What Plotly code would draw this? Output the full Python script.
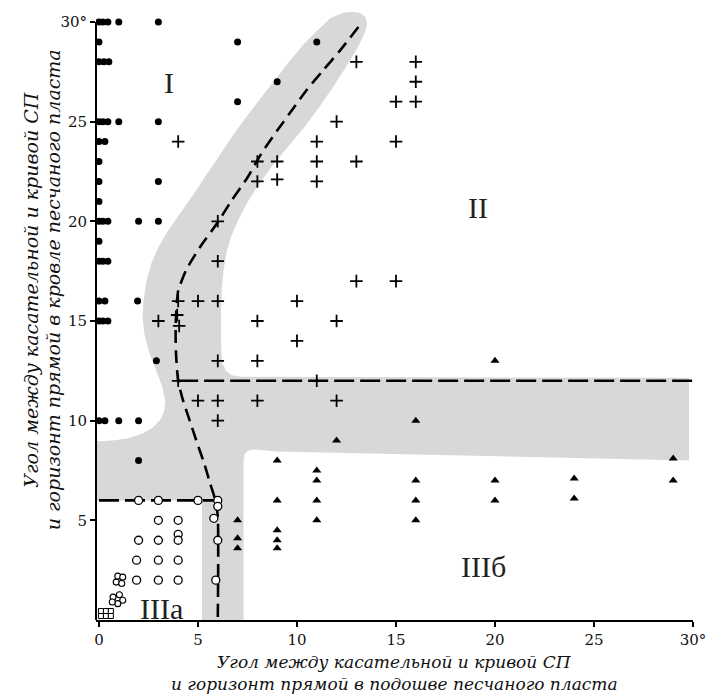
import plotly.graph_objects as go

# ---------------- data ----------------
# filled dots (zone I)
dot_x = [0, 0.2, 0.45, 1.0, 3.0,
         0, 7, 11,
         0, 0.25, 0.5,
         9,
         7,
         0, 0.2, 0.45, 1.0, 3.0,
         0, 0.3,
         0,
         0, 3,
         0,
         0, 0.2, 0.45, 2.0, 3.0,
         0,
         0, 0.2, 0.45,
         0, 0.3, 1.95,
         0, 0.2, 0.45,
         2.9,
         0, 0.3, 1.0, 2.0,
         2.0]
dot_y = [30, 30, 30, 30, 30,
         29, 29, 29,
         28, 28, 28,
         27,
         26,
         25, 25, 25, 25, 25,
         24, 24,
         23,
         22, 22,
         21,
         20, 20, 20, 20, 20,
         19,
         18, 18, 18,
         16, 16, 16,
         15, 15, 15,
         13,
         10, 10, 10, 10,
         8]

# crosses (zone II)
cross_x = [13, 16, 16, 15, 16, 12, 4, 11, 15, 8, 9, 11, 13, 8, 9, 11,
           6, 6, 13, 15, 4, 5, 6, 10, 3, 3.95, 8, 12, 4.05, 10,
           6, 8, 4, 11, 5, 6, 8, 12, 6]
cross_y = [28, 28, 27, 26, 26, 25, 24, 24, 24, 23, 23, 23, 23, 22, 22.1, 22,
           20, 18, 17, 17, 16, 16, 16, 16, 15, 15.3, 15, 15, 14.75, 14,
           13, 13, 12, 12, 11, 11, 11, 11, 10]

# open circles (zone IIIa)
ring_x = [2, 3, 5, 6, 6, 3, 4, 5.8, 2, 3, 4, 4, 6, 1.9, 3, 4, 1.9, 3, 4, 5.9]
ring_y = [6, 6, 6, 6, 5.7, 5, 5, 5.1, 4, 4, 4.3, 4, 4, 3, 3, 3, 2, 2, 2, 2]

# small open circles near the origin
small_ring_x = [0.95, 1.2, 0.87, 1.15, 0.71, 1.03, 1.2, 0.95, 0.67]
small_ring_y = [2.2, 2.15, 1.9, 1.83, 1.15, 1.27, 0.99, 0.82, 0.9]

# small squares at the origin
square_x = [0.1, 0.35, 0.6, 0.1, 0.35, 0.6]
square_y = [0.45, 0.45, 0.45, 0.2, 0.2, 0.2]

# triangles (zone IIIб)
tri_x = [7, 7, 7, 9, 9, 9, 9, 9, 11, 11, 11, 11, 12, 16, 16, 16, 16,
         20, 20, 20, 24, 24, 29, 29]
tri_y = [5, 4.1, 3.6, 8, 6, 4.5, 4, 3.6, 7.5, 7, 6, 5, 9, 10, 7, 6, 5,
         13, 7, 6, 7.1, 6.1, 8.1, 7]

# boundary of the grey transition zone
zone_x = [12.3, 11.7, 11.0, 10.3, 9.6, 9.0, 8.3, 7.6, 6.9, 6.2, 5.5, 4.8, 4.1,
          3.5, 3.0, 2.65, 2.4, 2.25, 2.2, 2.3, 2.55, 2.9, 3.2, 3.35, 3.3, 3.1,
          2.7, 2.2, 1.5, 0.8, 0.0, -0.3,
          -0.3, 5.2, 5.2, 7.3, 7.3, 7.35, 7.5, 7.8, 9.0, 12, 16, 20, 25, 29.8,
          29.8, 7.2, 6.7, 6.4, 6.22, 6.17, 6.16, 6.2, 6.3, 6.45, 6.7, 7.05,
          7.5, 8.1, 8.8, 9.6, 10.4, 11.1, 11.8, 12.45, 13.0, 13.4, 13.55,
          13.45, 13.2, 12.8, 12.3]
zone_y = [30.45, 30.2, 29.55, 28.85, 28.0, 27.25, 26.35, 25.45, 24.5, 23.5,
          22.45, 21.4, 20.4, 19.55, 18.7, 17.9, 17.0, 16.0, 15.2, 14.3, 13.4,
          12.5, 11.7, 11.0, 10.5, 10.05, 9.65, 9.35, 9.12, 9.02, 8.95, 8.95,
          6.0, 6.0, -0.3, -0.3, 8.0, 8.3, 8.48, 8.55, 8.45, 8.38, 8.3, 8.2,
          8.1, 8.0,
          12.15, 12.2, 12.28, 12.5, 12.9, 13.7, 15.4, 16.6, 17.6, 18.5, 19.3,
          20.1, 20.95, 21.9, 22.85, 23.8, 24.75, 25.7, 26.7, 27.7, 28.6, 29.4,
          29.9, 30.25, 30.45, 30.52, 30.45]

# dashed boundary curve
curve_x = [13.1, 12.2, 11.3, 10.5, 9.8, 9.0, 8.2, 7.5, 6.7, 6.0, 5.1, 4.4,
           4.0, 3.9, 3.87, 3.9, 4.0, 4.25, 4.55, 4.95, 5.3, 5.6, 5.88, 6.0, 6.0]
curve_y = [29.75, 28.6, 27.55, 26.6, 25.65, 24.55, 23.4, 22.2, 21.05, 19.95,
           18.7, 17.55, 16.5, 15.4, 14.3, 13.2, 12.0, 11.0, 10.1, 8.9, 7.9,
           6.9, 6.0, 5.2, 0.0]

# straight dashed boundaries
hline12_x = [4.0, 30.0]
hline12_y = [12.0, 12.0]
hline6_x = [0.0, 5.9]
hline6_y = [6.0, 6.0]

# zone labels
label_text = ["I", "II", "IIIа", "IIIб"]
label_x = [3.55, 19.15, 3.15, 19.4]
label_y = [26.95, 20.7, 0.6, 2.7]

x_tickvals = [0, 5, 10, 15, 20, 25, 30]
x_ticktext = ["0", "5", "10", "15", "20", "25", "30°"]
y_tickvals = [5, 10, 15, 20, 25, 30]
y_ticktext = ["5", "10", "15", "20", "25", "30°"]

x_title_lines = ["Угол между касательной и кривой СП",
                 "и горизонт прямой в подошве песчаного пласта"]
y_title_lines = ["Угол между касательной и кривой СП",
                 "и горизонт прямой в кровле песчаного пласта"]

# ---------------- figure ----------------
SERIF = "Liberation Serif, DejaVu Serif, serif"
TICKF = "DejaVu Serif, serif"
fig = go.Figure()

fig.add_trace(go.Scatter(x=zone_x, y=zone_y, mode="lines", fill="toself",
                         fillcolor="#d8d8d8", line=dict(width=0, color="#d8d8d8"),
                         hoverinfo="skip", showlegend=False))

fig.add_trace(go.Scatter(x=curve_x, y=curve_y, mode="lines",
                         line=dict(color="black", width=2.6, dash="13px,7px",
                                   shape="spline", smoothing=0.6),
                         showlegend=False))
fig.add_trace(go.Scatter(x=hline12_x, y=hline12_y, mode="lines",
                         line=dict(color="black", width=2.6, dash="20px,6px"),
                         showlegend=False))
fig.add_trace(go.Scatter(x=hline6_x, y=hline6_y, mode="lines",
                         line=dict(color="black", width=2.6, dash="20px,6px"),
                         showlegend=False))

fig.add_trace(go.Scatter(x=dot_x, y=dot_y, mode="markers",
                         marker=dict(symbol="circle", size=7, color="black"),
                         showlegend=False))
fig.add_trace(go.Scatter(x=cross_x, y=cross_y, mode="markers",
                         marker=dict(symbol="cross-thin", size=9, color="black",
                                     line=dict(width=1.8, color="black")),
                         showlegend=False))
fig.add_trace(go.Scatter(x=ring_x, y=ring_y, mode="markers",
                         marker=dict(symbol="circle", size=8, color="white",
                                     line=dict(width=1.3, color="black")),
                         showlegend=False))
fig.add_trace(go.Scatter(x=small_ring_x, y=small_ring_y, mode="markers",
                         marker=dict(symbol="circle", size=6, color="white",
                                     line=dict(width=1.1, color="black")),
                         showlegend=False))
fig.add_trace(go.Scatter(x=square_x, y=square_y, mode="markers",
                         marker=dict(symbol="square", size=5, color="white",
                                     line=dict(width=1, color="black")),
                         showlegend=False))
fig.add_trace(go.Scatter(x=tri_x, y=tri_y, mode="markers",
                         marker=dict(symbol="triangle-up", size=8, color="black"),
                         showlegend=False))

for t, lx, ly in zip(label_text, label_x, label_y):
    fig.add_annotation(x=lx, y=ly, text=t, showarrow=False,
                       xanchor="center", yanchor="middle",
                       font=dict(family=SERIF, size=30, color="#222"))

# axis titles (two lines each, italic serif)
TF = dict(family="DejaVu Serif", size=17, color="#111")
fig.add_annotation(xref="paper", yref="paper", x=0.5, y=-0.069,
                   xanchor="center", yanchor="middle",
                   text="<i>" + x_title_lines[0] + "</i>", showarrow=False, font=TF)
fig.add_annotation(xref="paper", yref="paper", x=0.5, y=-0.105,
                   xanchor="center", yanchor="middle",
                   text="<i>" + x_title_lines[1] + "</i>", showarrow=False, font=TF)
TFY = dict(family="DejaVu Serif", size=19, color="#111")
fig.add_annotation(xref="paper", yref="paper", x=-0.109, y=0.543, textangle=-90,
                   xanchor="center", yanchor="middle",
                   text="<i>" + y_title_lines[0] + "</i>", showarrow=False, font=TFY)
fig.add_annotation(xref="paper", yref="paper", x=-0.073, y=0.543, textangle=-90,
                   xanchor="center", yanchor="middle",
                   text="<i>" + y_title_lines[1] + "</i>", showarrow=False, font=TFY)

# y axis line drawn only up to 30
fig.add_shape(type="line", xref="paper", yref="y", x0=0, x1=0, y0=0, y1=30,
              line=dict(color="black", width=2))

fig.update_layout(
    width=718, height=700,
    margin=dict(l=96, r=16, t=12, b=80),
    plot_bgcolor="white", paper_bgcolor="white",
    font=dict(family=SERIF, size=17, color="black"),
    xaxis=dict(range=[-0.15, 30.0], showgrid=False, zeroline=False,
               showline=True, linecolor="black", linewidth=2,
               ticks="outside", ticklen=5, tickwidth=1.5, tickcolor="black",
               tickvals=x_tickvals, ticktext=x_ticktext,
               tickfont=dict(family=TICKF, size=15, color="#111")),
    yaxis=dict(range=[0, 30.5], showgrid=False, zeroline=False, showline=False,
               ticks="outside", ticklen=5, tickwidth=1.5, tickcolor="black",
               tickvals=y_tickvals, ticktext=y_ticktext,
               tickfont=dict(family=TICKF, size=15, color="#111")),
)

fig.write_html("out.html")
